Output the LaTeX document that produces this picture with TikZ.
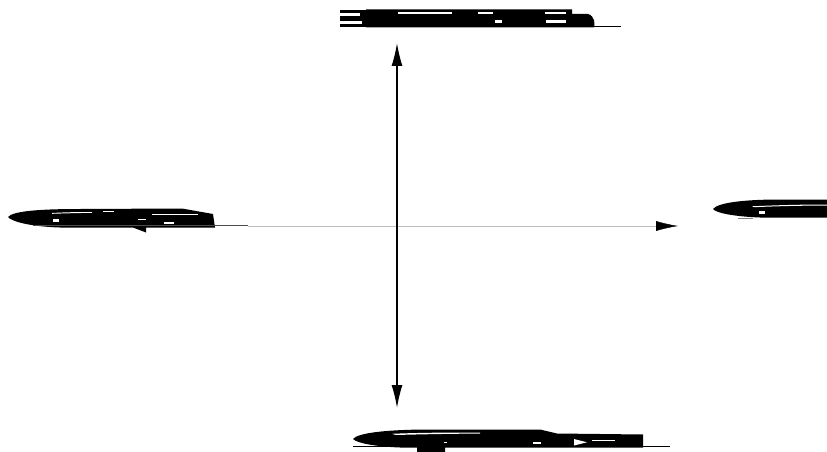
\documentclass[tikz,border=0pt]{standalone}
\usetikzlibrary{arrows.meta}
\tikzset{
  blob/.style={fill=black},
  gap/.style={fill=white},
  rule/.style={line width=0.8pt, black},
  axisv/.style={line width=1.4pt, black, {Latex[length=23pt,width=11pt]}-{Latex[length=23pt,width=11pt]}},
  axish/.style={line width=0.4pt, black!25, -{Latex[length=22pt,width=10pt,color=black]}}
}
\begin{document}
\begin{tikzpicture}[x=1pt,y=-1pt]
\useasboundingbox (0,0) rectangle (827,452);
% axes endpoints
\coordinate (vtop) at (397,43);
\coordinate (vbot) at (397,408);
\coordinate (hleft) at (248,226);
\coordinate (hright) at (678,226);
% ---------- top blob
\draw[rule] (340,10) -- (572,10);
\draw[rule] (340,26.5) -- (621,26.5);
\fill[blob] (340,10) rectangle (368,27);
\fill[gap] (340,13) rectangle (360,16.5);
\fill[gap] (340,21.5) rectangle (362,24);
\fill[blob] (366,9.5) -- (572,9.5) -- (572,14) -- (588,14)
  .. controls (595,16) and (595,24) .. (594,27.5) -- (366,27.5) -- cycle;
\fill[gap] (398,12.5) rectangle (452,14);
\fill[gap] (478,12.5) rectangle (493,14);
\fill[gap] (495,20.5) rectangle (502,23);
\fill[gap] (545,12.5) rectangle (566,14);
\fill[gap] (546,20.5) rectangle (566,23);
% ---------- left blob
\fill[blob] (8,217) .. controls (13,211) and (40,209) .. (80,209)
  -- (182,208.5) -- (213,214) -- (215,227.5) -- (146,227.5) -- (146,232.5) -- (133,227.5)
  -- (60,227.5) .. controls (28,226.5) and (11,221) .. (8,217) -- cycle;
\draw[line width=0.6pt, black!70] (33,225.5) -- (248,225.5);
\fill[gap] (52,213) .. controls (65,212.2) and (80,212) .. (92,212) -- (92,212.8) .. controls (80,213) and (65,213.3) .. (52,213.8) -- cycle;
\fill[gap] (53,218.5) rectangle (59,222);
\fill[gap] (103,210.5) rectangle (114,212);
\fill[gap] (138,218.5) rectangle (146,220);
\fill[gap] (152,214) rectangle (198,215);
\fill[gap] (164,221.5) rectangle (174,223.5);
% ---------- right blob
\fill[blob] (713,209) .. controls (718,202.5) and (745,199.5) .. (780,199.5)
  -- (827,199.5) -- (827,217.5) -- (760,217.5) .. controls (734,216.5) and (716,213) .. (713,209) -- cycle;
\fill[gap] (752,206.3) .. controls (780,205) and (805,204.5) .. (827,204.5) -- (827,205.5) .. controls (805,205.6) and (780,206) .. (754,207.2) -- cycle;
\fill[gap] (759,210.5) rectangle (765,213.5);
\draw[line width=0.6pt, black!50] (738,218) -- (753,218);
% ---------- bottom blob
\fill[blob] (353,439) .. controls (358,432.5) and (390,429.5) .. (430,429.5)
  -- (540,429.5) -- (557,433.5) -- (643,434.5) -- (643,447.5) -- (445,447.5)
  -- (445,452) -- (417,452) -- (417,447.5) -- (400,447.5)
  .. controls (374,446.5) and (357,443) .. (353,439) -- cycle;
\draw[line width=0.6pt] (353,446.5) -- (670,446.5);
\fill[gap] (392,433.8) .. controls (420,432.6) and (450,432.5) .. (480,432.5) -- (480,433.5) .. controls (450,433.8) and (420,434.3) .. (396,435) -- cycle;
\fill[gap] (444,441.5) rectangle (446.5,443);
\fill[gap] (533,441.5) rectangle (541,443.5);
\fill[gap] (574,439) -- (587,442.3) -- (574,445.5) -- cycle;
\fill[gap] (592,439.5) rectangle (615,441);
% ---------- axes
\draw[axish] (hleft) -- (hright);
\draw[axisv] (vtop) -- (vbot);
\end{tikzpicture}
\end{document}
